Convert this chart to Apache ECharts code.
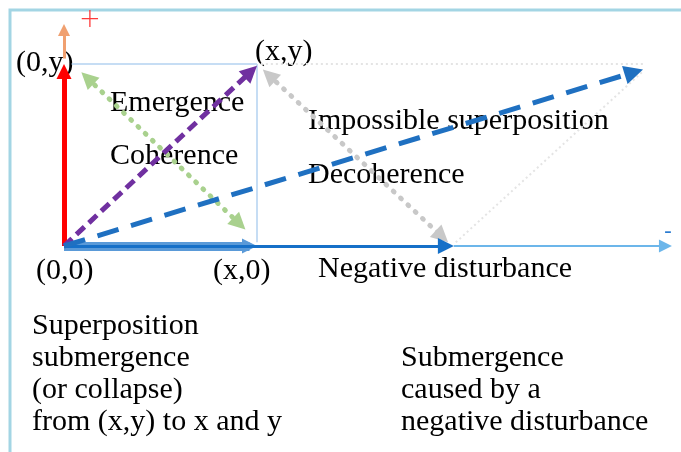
<!DOCTYPE html>
<html>
<head>
<meta charset="utf-8">
<script src="https://cdn.jsdelivr.net/npm/echarts@6/dist/echarts.min.js"></script>
<style>
  html, body { margin: 0; padding: 0; background: #fff; }
  #chart { width: 681px; height: 452px; }
</style>
</head>
<body>
<div id="chart"></div>
<script>
// vectors in units of the square: origin (0,0), corner (x,y) = (1,1)
// each pair is [from, to]; arrow tips sit exactly on these points
const yVector = [[0, 0], [0, 1]];
const plusArrow = [[0, 1.03], [0, 1.22]];
const xProjection = [[0, 0], [1, 0]];
const disturbance = [[0, 0], [2.02, 0]];
const axisTail = [[2.02, 0], [3.15, 0]];
const boxEdges = [[[0.04, 1], [1, 1]], [[1, 1], [1, 0.02]]];
const emergence = [[0, 0], [1, 0.99]];
const coherence = [[0.09, 0.955], [0.94, 0.09]];
const decoherence = [[1.03, 0.97], [1.99, 0.02]];
const impossible = [[0, 0], [3.0, 0.97]];
const ghostEdges = [[[1.02, 1], [3.0, 1]], [[2.03, 0.02], [3.0, 0.96]]];

const pointLabels = ['(0,y)', '(x,y)', '(0,0)', '(x,0)'];
const processLabels = ['Emergence', 'Coherence', 'Impossible superposition', 'Decoherence', 'Negative disturbance'];
const leftNote = ['Superposition', 'submergence', '(or collapse)', 'from (x,y) to x and y'];
const rightNote = ['Submergence', 'caused by a', 'negative disturbance'];

const W = 681, H = 452;
const ORIGIN = [64, 246];
const UNIT = [193, 182];
const FONT = '"Liberation Serif", "Times New Roman", serif';

const chart = echarts.init(document.getElementById('chart'), null, { renderer: 'canvas' });

// echarts centres the arrow head on the end point, so pull the end back by half a head
const pullBack = (from, to, px) => {
    const dx = (to[0] - from[0]) * UNIT[0];
    const dy = (to[1] - from[1]) * UNIT[1];
    const len = Math.sqrt(dx * dx + dy * dy);
    return [to[0] - dx / len * px / UNIT[0], to[1] - dy / len * px / UNIT[1]];
};

const vec = (name, coords, color, width, opts = {}) => {
    const symbol = opts.symbol || ['none', 'triangle'];
    const size = opts.symbolSize || 14;
    const list = (opts.multi ? coords : [coords]).map(([a, b]) => {
        let from = a, to = b;
        if (symbol !== 'none') {
            if (symbol[1] !== 'none') to = pullBack(a, b, size / 2);
            if (symbol[0] !== 'none') from = pullBack(b, a, size / 2);
        }
        return { coords: [from, to] };
    });
    return {
        name,
        type: 'lines',
        coordinateSystem: 'cartesian2d',
        silent: true,
        symbol,
        symbolSize: size,
        lineStyle: {
            color,
            width,
            opacity: 1,
            type: opts.type || 'solid',
            cap: opts.cap || 'butt',
        },
        data: list,
    };
};

const text = (str, left, top, extra = {}) => ({
    type: 'text',
    left,
    top,
    z: 1,
    style: Object.assign({
        text: str,
        font: '30px ' + FONT,
        fill: '#000',
        lineHeight: 32,
    }, extra),
});

chart.setOption({
    animation: false,
    grid: { left: 0, right: 0, top: 0, bottom: 0 },
    xAxis: {
        type: 'value',
        show: false,
        min: -ORIGIN[0] / UNIT[0],
        max: (W - ORIGIN[0]) / UNIT[0],
    },
    yAxis: {
        type: 'value',
        show: false,
        min: -(H - ORIGIN[1]) / UNIT[1],
        max: ORIGIN[1] / UNIT[1],
    },
    graphic: [
        {
            type: 'polyline',
            z: 0,
            shape: { points: [[10, H], [10, 10], [W, 10]] },
            style: { stroke: '#a3d5e4', lineWidth: 3, fill: null },
        },
        text(pointLabels[0], 16, 47),
        text(pointLabels[1], 255, 36),
        text(pointLabels[2], 36, 255),
        text(pointLabels[3], 213, 255),
        text(processLabels[0], 110, 87),
        text(processLabels[1], 110, 140),
        text(processLabels[2], 308, 105),
        text(processLabels[3], 308, 159),
        text(processLabels[4], 318, 253),
        text(leftNote.join('\n'), 32, 310),
        text(rightNote.join('\n'), 401, 342),
        text('+', 79, 4, { font: '300 26px "DejaVu Sans", sans-serif', fill: '#ff3a3a' }),
        text('-', 664, 216, { font: '22px "DejaVu Sans", sans-serif', fill: '#2a7bd0' }),
    ],
    series: [
        vec('box', boxEdges, '#c6ddf4', 2, { multi: true, symbol: 'none' }),
        vec('ghost', ghostEdges, '#e4e4e4', 2, { multi: true, symbol: 'none', type: [2, 3] }),
        vec('coherence', coherence, '#a9d18e', 5, { symbol: ['triangle', 'triangle'], symbolSize: 17, type: [1, 9], cap: 'round' }),
        vec('decoherence', decoherence, '#c8c8c8', 5, { symbol: ['triangle', 'triangle'], symbolSize: 17, type: [1, 9], cap: 'round' }),
        vec('tail', axisTail, '#6cb6ea', 2, { symbolSize: 13 }),
        vec('projection', xProjection, '#5a9ad8', 9, { symbolSize: 15 }),
        vec('disturbance', disturbance, '#1670c8', 3, { symbolSize: 16 }),
        vec('y', yVector, '#ff0000', 5, { symbolSize: 15 }),
        vec('plus', plusArrow, '#f0a070', 3, { symbolSize: 12 }),
        vec('emergence', emergence, '#7030a0', 5, { symbolSize: 17, type: [11, 6] }),
        vec('impossible', impossible, '#1f70c1', 5, { symbolSize: 19, type: [22, 13] }),
    ],
});
</script>
</body>
</html>
